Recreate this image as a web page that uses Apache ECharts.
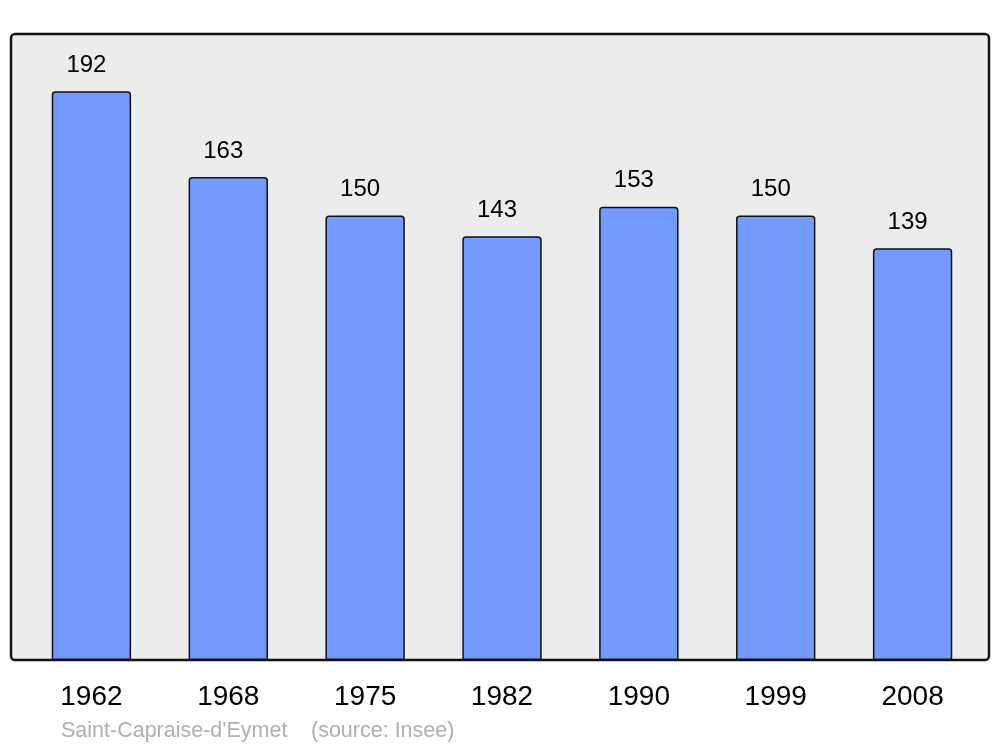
<!DOCTYPE html>
<html>
<head>
<meta charset="utf-8">
<script src="https://cdn.jsdelivr.net/npm/echarts@6/dist/echarts.min.js"></script>
<style>html,body{margin:0;padding:0;background:#fff}#c{width:1000px;height:747px}</style>
</head>
<body>
<div id="c"></div>
<script>
var categories = ['1962', '1968', '1975', '1982', '1990', '1999', '2008'];
var population = [192, 163, 150, 143, 153, 150, 139];
var placeName = "Saint-Capraise-d'Eymet";
var sourceText = '(source: Insee)';

var chart = echarts.init(document.getElementById('c'));
var font = '"Liberation Sans", Arial, sans-serif';
chart.setOption({
  animation: false,
  grid: [
    {left: 23, width: 958, top: 34, bottom: 87}
  ],
  xAxis: [
    {type: 'category', data: categories,
     axisLine: {show: false}, axisTick: {show: false},
     axisLabel: {fontFamily: font, fontSize: 28, color: '#000', margin: 23}}
  ],
  yAxis: [
    {type: 'value', min: 0, max: 211.3, show: false, splitLine: {show: false}}
  ],
  series: [{
    type: 'bar', data: population,
    barWidth: '58%', z: 5,
    itemStyle: {color: '#7499ff', borderColor: '#111', borderWidth: 1.5, borderRadius: [3, 3, 0, 0]},
    label: {show: true, position: 'top', distance: 14, offset: [-5, 0],
            fontFamily: font, fontSize: 24, color: '#000'}
  }],
  graphic: [
    {type: 'rect', z: 0, shape: {x: 11, y: 34, width: 978, height: 626, r: 4},
     style: {fill: '#ececec', stroke: '#111', lineWidth: 2.5}},
    {type: 'text', left: 61, top: 720, style: {text: placeName, font: '21.5px ' + font, fill: '#b0b0b0'}},
    {type: 'text', left: 311, top: 720, style: {text: sourceText, font: '21.5px ' + font, fill: '#b0b0b0'}}
  ]
});
</script>
</body>
</html>
